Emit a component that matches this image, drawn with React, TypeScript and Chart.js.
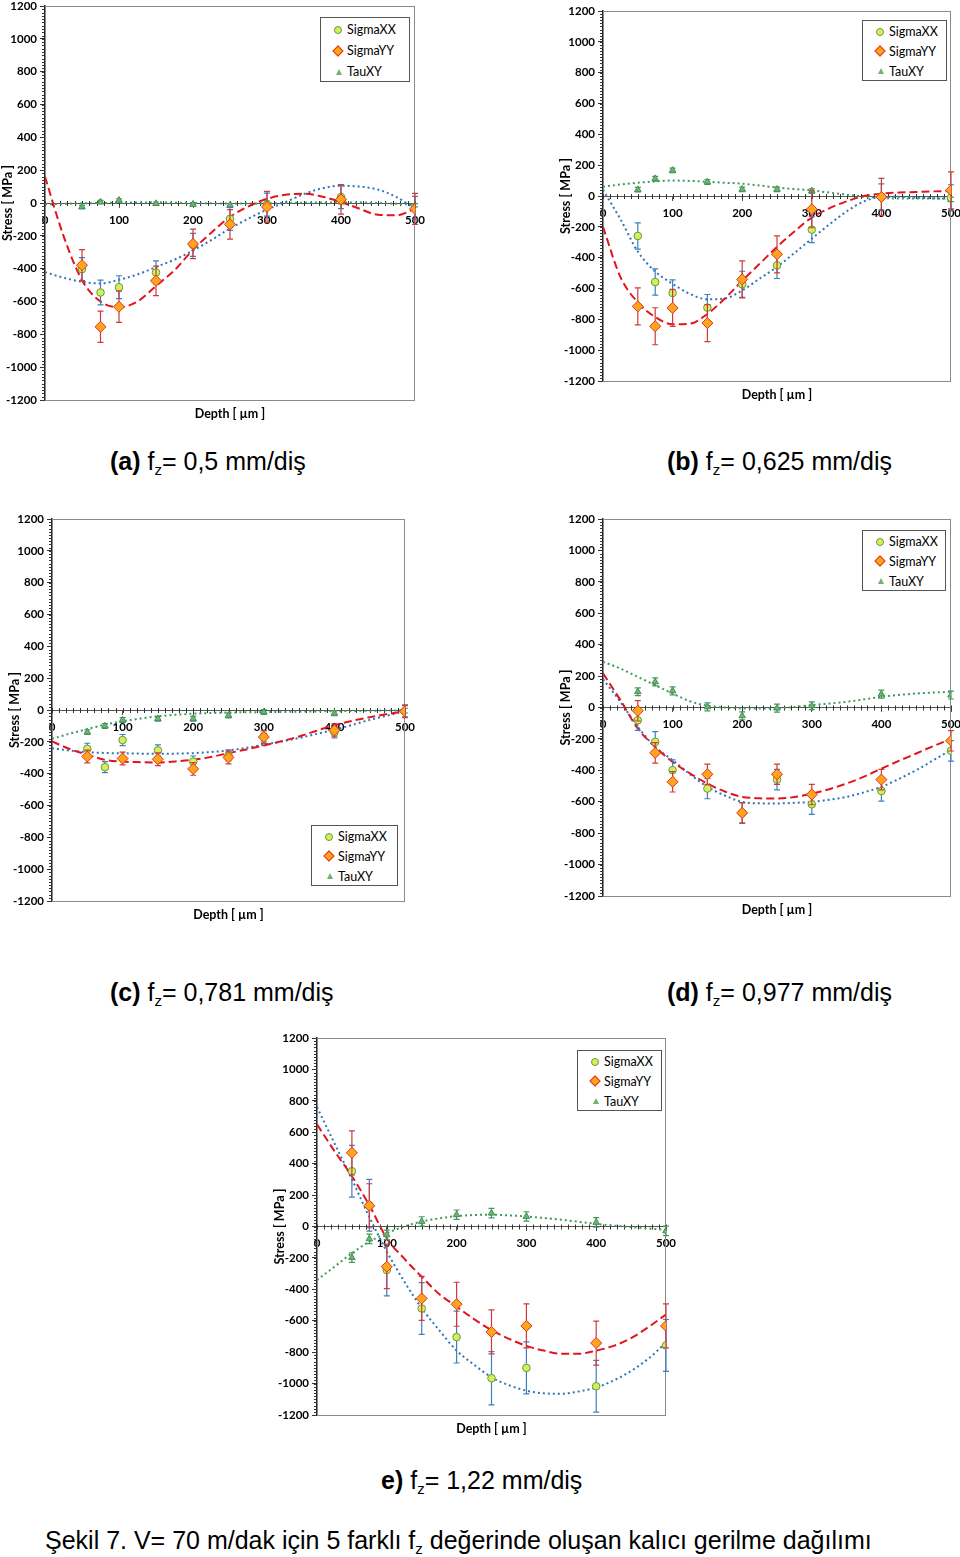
import React, { useEffect, useRef } from "react";
import { Chart, registerables } from "chart.js";
Chart.register(...registerables);

// ---------- data ----------
const depthUm = [50, 75, 100, 150, 200, 250, 300, 400, 500];
const trendDepthUm = [0, 25, 50, 75, 100, 125, 150, 175, 200, 225, 250, 275, 300, 325, 350, 375, 400, 425, 450, 475, 500];
const yTicksMin = -1200;
const yTicksMax = 1200;
const seriesNames = ["SigmaXX", "SigmaYY", "TauXY"];

// (a) fz = 0,5
const sigmaXX_a = [-403, -545, -513, -423, -255, -97, -10, 36, -30];
const sigmaXXErr_a = [70, 75, 70, 70, 70, 70, 70, 70, 70];
const sigmaYY_a = [-379, -754, -632, -474, -249, -130, -24, 22, -36];
const sigmaYYErr_a = [95, 95, 95, 90, 90, 90, 95, 90, 95];
const tauXY_a = [-24, 6, 16, -4, -8, -14, 2, 6, -14];
const tauXYErr_a = [10, 10, 10, 10, 10, 10, 10, 10, 10];
const trendXX_a = [-421, -455, -480, -490, -468, -435, -390, -345, -290, -225, -155, -95, -40, 5, 55, 90, 105, 100, 82, 36, -35];
const trendYY_a = [160, -200, -470, -600, -635, -600, -505, -410, -285, -180, -85, -20, 25, 50, 57, 38, 6, -35, -72, -75, -35];
const trendTau_a = [-8, -5, -2, 0, 2, 3, 3, 2, 0, -2, -3, -3, -2, 0, 2, 3, 4, 3, 0, -5, -10];

// (b) fz = 0,625
const sigmaXX_b = [-259, -558, -629, -724, -573, -450, -218, -6, -12];
const sigmaXXErr_b = [85, 85, 85, 85, 85, 85, 85, 85, 85];
const sigmaYY_b = [-716, -845, -726, -824, -541, -378, -86, -6, 37];
const sigmaYYErr_b = [120, 120, 120, 120, 120, 120, 120, 120, 120];
const tauXY_b = [41, 112, 166, 91, 43, 43, 32, 0, -22];
const tauXYErr_b = [15, 15, 15, 15, 15, 15, 15, 15, 15];
const trendXX_b = [40, -150, -360, -490, -570, -635, -670, -665, -612, -536, -460, -370, -277, -185, -100, -35, -6, -5, -10, -15, -17];
const trendYY_b = [-200, -525, -690, -785, -832, -828, -765, -665, -550, -440, -330, -230, -140, -80, -35, 0, 15, 22, 26, 30, 32];
const trendTau_b = [60, 75, 86, 95, 100, 98, 92, 86, 80, 68, 55, 45, 37, 22, 9, -3, -13, -16, -17, -17, -17];

// (c) fz = 0,781
const sigmaXX_c = [-244, -359, -189, -254, -324, -285, -165, -141, -8];
const sigmaXXErr_c = [35, 35, 35, 35, 35, 35, 35, 35, 35];
const sigmaYY_c = [-292, null, -305, -309, -370, -298, -170, -128, -8];
const sigmaYYErr_c = [40, 40, 40, 40, 40, 40, 40, 40, 40];
const tauXY_c = [-139, -101, -63, -55, -55, -34, -13, -21, -4];
const tauXYErr_c = [15, 15, 15, 15, 15, 15, 15, 15, 15];
const trendXX_c = [-240, -255, -265, -270, -272, -274, -275, -274, -271, -264, -254, -238, -218, -198, -176, -150, -124, -94, -62, -35, -8];
const trendYY_c = [-197, -245, -281, -313, -324, -328, -330, -323, -313, -295, -271, -248, -223, -196, -166, -130, -95, -68, -45, -25, -8];
const trendTau_c = [-181, -149, -120, -92, -71, -54, -40, -30, -23, -19, -16, -14, -13, -12, -10, -9, -8, -6, -5, -3, -2];

// (d) fz = 0,977
const sigmaXX_d = [-81, -219, -399, -516, -671, -459, -616, -531, -276];
const sigmaXXErr_d = [65, 65, 65, 65, 65, 65, 65, 65, 65];
const sigmaYY_d = [-21, -289, -473, -425, -671, -425, -554, -459, -212];
const sigmaYYErr_d = [65, 65, 65, 65, 65, 65, 65, 65, 65];
const tauXY_d = [100, 163, 106, 4, -53, -4, 11, 85, 79];
const tauXYErr_d = [25, 25, 25, 25, 25, 25, 25, 25, 25];
const trendXX_d = [180, 36, -123, -251, -335, -425, -505, -560, -601, -610, -611, -607, -601, -587, -569, -540, -505, -455, -399, -335, -270];
const trendYY_d = [217, 47, -134, -251, -346, -420, -484, -535, -569, -578, -580, -570, -548, -520, -484, -440, -389, -340, -293, -245, -200];
const trendTau_d = [291, 248, 195, 142, 89, 40, 11, 0, -6, -7, -6, 3, 15, 25, 36, 52, 68, 80, 89, 95, 100];

// (e) fz = 1,22
const sigmaXX_e = [352, 135, -277, -522, -704, -966, -900, -1017, -757];
const sigmaXXErr_e = [165, 165, 165, 165, 165, 170, 165, 165, 165];
const sigmaYY_e = [469, 132, -256, -458, -495, -671, -633, -742, -633];
const sigmaYYErr_e = [140, 140, 140, 140, 140, 140, 140, 140, 140];
const tauXY_e = [-198, -79, -53, 32, 75, 85, 64, 26, -28];
const tauXYErr_e = [30, 30, 30, 30, 30, 30, 30, 30, 30];
const trendXX_e = [760, 530, 300, 60, -160, -350, -520, -660, -790, -880, -960, -1010, -1045, -1062, -1065, -1050, -1025, -980, -920, -840, -740];
const trendYY_e = [650, 480, 320, 135, -75, -205, -320, -430, -510, -590, -660, -715, -760, -790, -810, -810, -790, -760, -710, -640, -560];
const trendTau_e = [-341, -256, -170, -96, -43, 0, 32, 52, 66, 73, 75, 71, 64, 54, 43, 30, 17, 6, -4, -13, -21];

// ---------- panels: data + layout ----------
type Panel = {
  key: string;
  xx: (number | null)[]; xxErr: number[];
  yy: (number | null)[]; yyErr: number[];
  tau: (number | null)[]; tauErr: number[];
  tXX: number[]; tYY: number[]; tTau: number[];
  area: { left: number; right: number; top: number; bottom: number };
  legend: { left: number; top: number; width: number; height: number };
  caption: { left: number; cy: number; label: string; value: string };
};

const panels: Panel[] = [
  {
    key: "a", xx: sigmaXX_a, xxErr: sigmaXXErr_a, yy: sigmaYY_a, yyErr: sigmaYYErr_a, tau: tauXY_a, tauErr: tauXYErr_a,
    tXX: trendXX_a, tYY: trendYY_a, tTau: trendTau_a,
    area: { left: 45, right: 415, top: 6, bottom: 400 },
    legend: { left: 320, top: 17, width: 90, height: 65 },
    caption: { left: 110, cy: 461, label: "(a)", value: "0,5" },
  },
  {
    key: "b", xx: sigmaXX_b, xxErr: sigmaXXErr_b, yy: sigmaYY_b, yyErr: sigmaYYErr_b, tau: tauXY_b, tauErr: tauXYErr_b,
    tXX: trendXX_b, tYY: trendYY_b, tTau: trendTau_b,
    area: { left: 603, right: 951, top: 11, bottom: 381 },
    legend: { left: 862, top: 20, width: 85, height: 61 },
    caption: { left: 667, cy: 461, label: "(b)", value: "0,625" },
  },
  {
    key: "c", xx: sigmaXX_c, xxErr: sigmaXXErr_c, yy: sigmaYY_c, yyErr: sigmaYYErr_c, tau: tauXY_c, tauErr: tauXYErr_c,
    tXX: trendXX_c, tYY: trendYY_c, tTau: trendTau_c,
    area: { left: 52, right: 405, top: 519, bottom: 901 },
    legend: { left: 311, top: 825, width: 87, height: 61 },
    caption: { left: 110, cy: 992, label: "(c)", value: "0,781" },
  },
  {
    key: "d", xx: sigmaXX_d, xxErr: sigmaXXErr_d, yy: sigmaYY_d, yyErr: sigmaYYErr_d, tau: tauXY_d, tauErr: tauXYErr_d,
    tXX: trendXX_d, tYY: trendYY_d, tTau: trendTau_d,
    area: { left: 603, right: 951, top: 519, bottom: 896 },
    legend: { left: 862, top: 530, width: 84, height: 61 },
    caption: { left: 667, cy: 992, label: "(d)", value: "0,977" },
  },
  {
    key: "e", xx: sigmaXX_e, xxErr: sigmaXXErr_e, yy: sigmaYY_e, yyErr: sigmaYYErr_e, tau: tauXY_e, tauErr: tauXYErr_e,
    tXX: trendXX_e, tYY: trendYY_e, tTau: trendTau_e,
    area: { left: 317, right: 666, top: 1038, bottom: 1415 },
    legend: { left: 577, top: 1050, width: 85, height: 61 },
    caption: { left: 381, cy: 1480, label: "e)", value: "1,22" },
  },
];

// ---------- styles ----------
const Y_AXIS_W = 45;
const PAD_TOP = 10;
const PAD_RIGHT = 12;
const BOTTOM_H = 24;
const chartFont = "Lato, 'Open Sans', sans-serif";
const captionFont = "'Liberation Sans', Arial, sans-serif";

const XX_FILL = "#d9ed5c";
const XX_EDGE = "#5f9e3c";
const XX_ERR = "#3f7fc0";
const XX_TREND = "#2e75b6";
const YY_FILL = "#ffa41c";
const YY_EDGE = "#e0321c";
const YY_ERR = "#cf3b3b";
const YY_TREND = "#e2141c";
const TAU_FILL = "#6fb36f";
const TAU_EDGE = "#4a8d5a";
const TAU_ERR = "#3f9a5a";
const TAU_TREND = "#3d9b5b";

const errorBarPlugin = {
  id: "errorBars",
  beforeDatasetDraw(chart: any, args: any) {
    const ds = chart.data.datasets[args.index];
    if (!ds.errColor) return;
    const { ctx } = chart;
    const xs = chart.scales.x;
    const ys = chart.scales.y;
    ctx.save();
    ctx.strokeStyle = ds.errColor;
    ctx.lineWidth = 1.2;
    ctx.beginPath();
    ds.data.forEach((pt: any) => {
      const px = xs.getPixelForValue(pt.x);
      const t = ys.getPixelForValue(pt.y + pt.e);
      const b = ys.getPixelForValue(pt.y - pt.e);
      ctx.moveTo(px, t); ctx.lineTo(px, b);
      ctx.moveTo(px - 3, t); ctx.lineTo(px + 3, t);
      ctx.moveTo(px - 3, b); ctx.lineTo(px + 3, b);
    });
    ctx.stroke();
    ctx.restore();
  },
};

const framePlugin = {
  id: "frame",
  beforeDatasetsDraw(chart: any) {
    const { ctx, chartArea: ca } = chart;
    const xs = chart.scales.x;
    const ys = chart.scales.y;
    ctx.save();
    ctx.strokeStyle = "#8a8a8a";
    ctx.lineWidth = 1;
    ctx.strokeRect(ca.left + 0.5, ca.top + 0.5, ca.right - ca.left - 1, ca.bottom - ca.top);
    ctx.strokeStyle = "#333";
    ctx.beginPath();
    for (let v = yTicksMin; v <= yTicksMax; v += 20) {
      const py = Math.round(ys.getPixelForValue(v)) + 0.5;
      ctx.moveTo(ca.left - 3, py); ctx.lineTo(ca.left, py);
    }
    const y0 = ys.getPixelForValue(0);
    for (let v = 0; v <= 500; v += 10) {
      const px = Math.round(xs.getPixelForValue(v)) + 0.5;
      ctx.moveTo(px, y0 - 2); ctx.lineTo(px, y0 + 3);
    }
    ctx.stroke();
    ctx.restore();
  },
};

function points(vals: (number | null)[], errs: number[]) {
  return depthUm
    .map((x, i) => ({ x, y: vals[i] as number, e: errs[i] }))
    .filter((p) => p.y !== null && p.y !== undefined);
}
function trend(vals: number[]) {
  return trendDepthUm.map((x, i) => ({ x, y: vals[i] }));
}

function StressChart({ p }: { p: Panel }) {
  const ref = useRef<HTMLCanvasElement>(null);
  const w = p.area.right - p.area.left + Y_AXIS_W + PAD_RIGHT;
  const h = p.area.bottom - p.area.top + PAD_TOP + BOTTOM_H;
  useEffect(() => {
    if (!ref.current) return;
    const tickFont = { family: chartFont, size: 11.5, weight: "bold" as const };
    const chart = new Chart(ref.current, {
      type: "scatter",
      data: {
        datasets: [
          {
            label: seriesNames[1], data: points(p.yy, p.yyErr), pointStyle: "rectRot", pointRadius: 5.5,
            backgroundColor: YY_FILL, borderColor: YY_EDGE, borderWidth: 1, order: 0, errColor: YY_ERR,
          } as any,
          {
            label: seriesNames[0], data: points(p.xx, p.xxErr), pointStyle: "circle", pointRadius: 3.8,
            backgroundColor: XX_FILL, borderColor: XX_EDGE, borderWidth: 1, order: 1, errColor: XX_ERR,
          } as any,
          {
            label: seriesNames[2], data: points(p.tau, p.tauErr), pointStyle: "triangle", pointRadius: 3.8,
            backgroundColor: TAU_FILL, borderColor: TAU_EDGE, borderWidth: 1, order: 2, errColor: TAU_ERR,
          } as any,
          {
            label: "trend XX", data: trend(p.tXX), showLine: true, pointRadius: 0, borderColor: XX_TREND,
            borderDash: [2, 3], borderWidth: 2, cubicInterpolationMode: "monotone", order: 5,
          } as any,
          {
            label: "trend YY", data: trend(p.tYY), showLine: true, pointRadius: 0, borderColor: YY_TREND,
            borderDash: [8, 4], borderWidth: 2, cubicInterpolationMode: "monotone", order: 4,
          } as any,
          {
            label: "trend Tau", data: trend(p.tTau), showLine: true, pointRadius: 0, borderColor: TAU_TREND,
            borderDash: [2, 3], borderWidth: 2, cubicInterpolationMode: "monotone", order: 6,
          } as any,
        ],
      },
      options: {
        responsive: false,
        animation: false,
        layout: { padding: { top: PAD_TOP, right: PAD_RIGHT, left: 0, bottom: 0 } },
        plugins: {
          legend: { display: false },
          tooltip: { enabled: false },
          title: {
            display: true, position: "bottom", fullSize: false, text: "Depth [ µm ]", color: "#000",
            font: { family: chartFont, size: 12.5, weight: "bold", lineHeight: 1 },
            padding: { top: 8, bottom: 3.5 },
          },
        },
        scales: {
          x: {
            type: "linear", position: { y: 0 } as any, min: 0, max: 500,
            ticks: { stepSize: 100, font: tickFont, color: "#000", padding: 6, maxRotation: 0, autoSkip: false, callback: (v: any) => String(v) },
            grid: { drawOnChartArea: false, drawTicks: true, tickLength: 4, color: "#555" },
            border: { color: "#555", width: 1 },
            afterFit: (s: any) => { s.paddingLeft = 0; s.paddingRight = 0; },
          },
          y: {
            type: "linear", min: yTicksMin, max: yTicksMax,
            ticks: { stepSize: 200, font: tickFont, color: "#000", padding: 3, callback: (v: any) => String(v) },
            grid: { drawOnChartArea: false, drawTicks: true, tickLength: 5, color: "#333" },
            border: { color: "#222", width: 1.5 },
            title: {
              display: true, text: "Stress [ MPa ]", color: "#000",
              font: { family: chartFont, size: 12.5, weight: "bold" }, padding: { top: 0, bottom: 0 },
            },
            afterFit: (s: any) => { s.width = Y_AXIS_W; },
          },
        },
      } as any,
      plugins: [framePlugin, errorBarPlugin],
    });
    return () => chart.destroy();
  }, [p]);
  return (
    <canvas
      ref={ref}
      width={w}
      height={h}
      style={{ position: "absolute", left: p.area.left - Y_AXIS_W, top: p.area.top - PAD_TOP, width: w, height: h }}
    />
  );
}

function Marker({ kind }: { kind: number }) {
  if (kind === 0)
    return <span style={{ display: "inline-block", width: 6, height: 6, borderRadius: "50%", background: XX_FILL, border: `1px solid ${XX_EDGE}` }} />;
  if (kind === 1)
    return <span style={{ display: "inline-block", width: 6, height: 6, transform: "rotate(45deg)", background: YY_FILL, border: `1px solid ${YY_EDGE}` }} />;
  return <span style={{ display: "inline-block", width: 0, height: 0, borderLeft: "3.5px solid transparent", borderRight: "3.5px solid transparent", borderBottom: `6px solid ${TAU_FILL}` }} />;
}

function Legend({ p }: { p: Panel }) {
  const l = p.legend;
  const rowH = (l.height - 2) / 3;
  return (
    <div style={{ position: "absolute", left: l.left, top: l.top, width: l.width, height: l.height, boxSizing: "border-box", border: "1px solid #555", background: "#fff", fontFamily: chartFont, fontSize: 12.5, color: "#000" }}>
      {seriesNames.map((n, i) => (
        <div key={n} style={{ position: "absolute", left: 0, top: 1 + i * rowH, height: rowH, width: "100%", display: "flex", alignItems: "center" }}>
          <div style={{ width: 26, display: "flex", justifyContent: "flex-end", paddingRight: 5, boxSizing: "border-box" }}>
            <Marker kind={i} />
          </div>
          <span>{n}</span>
        </div>
      ))}
    </div>
  );
}

function Caption({ p }: { p: Panel }) {
  return (
    <div style={{ position: "absolute", left: p.caption.left, top: p.caption.cy - 15, lineHeight: "30px", fontFamily: captionFont, fontSize: 25, whiteSpace: "nowrap", color: "#000" }}>
      <b>{p.caption.label}</b> f<span style={{ fontSize: 15, position: "relative", top: 5 }}>z</span>= {p.caption.value} mm/diş
    </div>
  );
}

export default function App() {
  return (
    <div style={{ position: "absolute", left: 0, top: 0, width: 960, height: 1557, background: "#fff", overflow: "hidden" }}>
      {panels.map((p) => (
        <React.Fragment key={p.key}>
          <StressChart p={p} />
          <Legend p={p} />
          <Caption p={p} />
        </React.Fragment>
      ))}
      <div style={{ position: "absolute", left: 45, top: 1540 - 15, lineHeight: "30px", fontFamily: captionFont, fontSize: 25, whiteSpace: "nowrap", color: "#000" }}>
        Şekil 7. V= 70 m/dak için 5 farklı f<span style={{ fontSize: 15, position: "relative", top: 5 }}>z</span> değerinde oluşan kalıcı gerilme dağılımı
      </div>
    </div>
  );
}
